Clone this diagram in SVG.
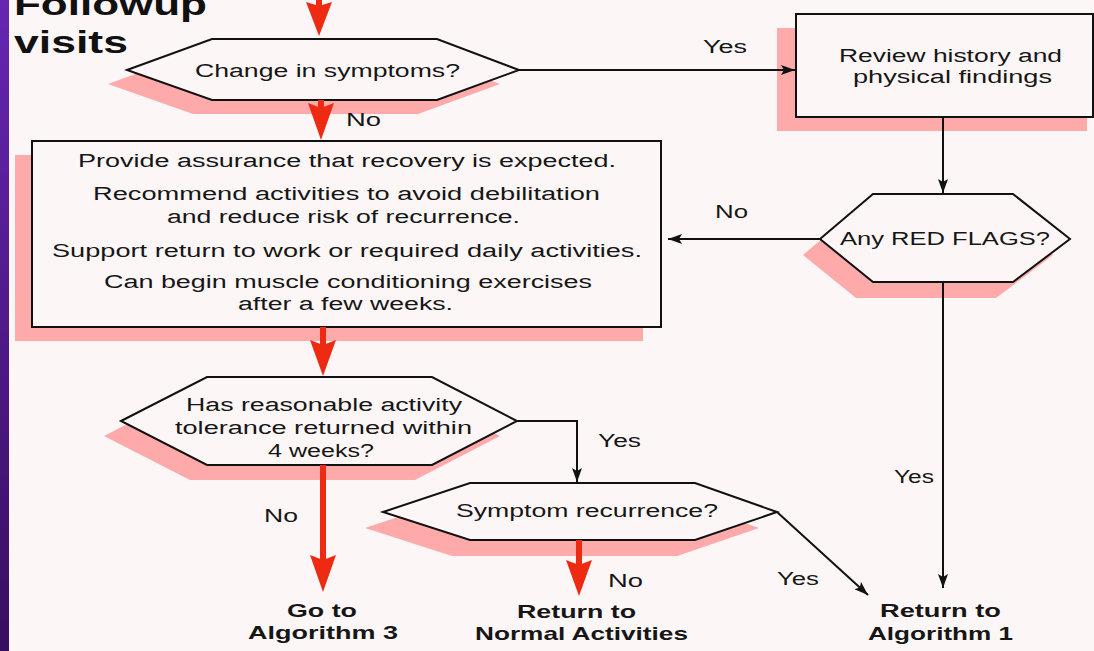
<svg xmlns="http://www.w3.org/2000/svg" width="1094" height="651" viewBox="0 0 1094 651">
<defs>
  <linearGradient id="bar" x1="0" y1="0" x2="0" y2="1">
    <stop offset="0" stop-color="#6626b2"/>
    <stop offset="1" stop-color="#380e60"/>
  </linearGradient>
  <marker id="ah" viewBox="0 0 14 10" refX="14" refY="5" markerWidth="14" markerHeight="10" markerUnits="userSpaceOnUse" orient="auto">
    <path d="M0,0 L14,5 L0,10 L3,5 Z" fill="#111"/>
  </marker>
</defs>
<style>
  .t { font-family: "Liberation Sans", Arial, sans-serif; font-size: 18px; fill: #161616; }
  .b { font-weight: bold; font-size: 19px; }
  .title { font-family: "Liberation Sans", Arial, sans-serif; font-weight: bold; font-size: 31px; fill: #111; }
  .shape { fill: #fdf6f6; stroke: #111; stroke-width: 2; }
  .shadow { fill: #ffaaaa; }
  .blk { stroke: #111; stroke-width: 2; fill: none; }
  .red { stroke: #ee2b12; stroke-width: 6; fill: none; }
  .rh { fill: #ee2b12; }
</style>
<rect x="0" y="0" width="1094" height="651" fill="#fdf6f6"/>
<rect x="0" y="0" width="9" height="651" fill="url(#bar)"/>

<g id="title">
  <text class="title" x="14" y="15" textLength="193" lengthAdjust="spacingAndGlyphs">Followup</text>
  <text class="title" x="14" y="53" textLength="114" lengthAdjust="spacingAndGlyphs">visits</text>
</g>

<g id="node-change">
  <polygon class="shadow" transform="translate(-19,14)" points="127,70 212,39 437,39 519,70 437,100 212,100"/>
  <polygon class="shape" points="127,70 212,39 437,39 519,70 437,100 212,100"/>
  <text class="t" x="195" y="77" textLength="265" lengthAdjust="spacingAndGlyphs">Change in symptoms?</text>
</g>

<g id="node-review">
  <rect class="shadow" x="777" y="28" width="310" height="103"/>
  <rect class="shape" x="796" y="14" width="297" height="103"/>
  <text class="t" x="839" y="62" textLength="223" lengthAdjust="spacingAndGlyphs">Review history and</text>
  <text class="t" x="853" y="83" textLength="199" lengthAdjust="spacingAndGlyphs">physical findings</text>
</g>

<g id="node-redflags">
  <polygon class="shadow" transform="translate(-17,16)" points="820,239 873,194 1013,194 1070,239 1013,282 873,282"/>
  <polygon class="shape" points="820,239 873,194 1013,194 1070,239 1013,282 873,282"/>
  <text class="t" x="840" y="245" textLength="210" lengthAdjust="spacingAndGlyphs">Any RED FLAGS?</text>
</g>

<g id="node-assurance">
  <rect class="shadow" x="15" y="155" width="628" height="186"/>
  <rect class="shape" x="32" y="141" width="629" height="186"/>
  <text class="t" x="78" y="167" textLength="538" lengthAdjust="spacingAndGlyphs">Provide assurance that recovery is expected.</text>
  <text class="t" x="93" y="200" textLength="507" lengthAdjust="spacingAndGlyphs">Recommend activities to avoid debilitation</text>
  <text class="t" x="167" y="223" textLength="353" lengthAdjust="spacingAndGlyphs">and reduce risk of recurrence.</text>
  <text class="t" x="52" y="257" textLength="590" lengthAdjust="spacingAndGlyphs">Support return to work or required daily activities.</text>
  <text class="t" x="104" y="288" textLength="488" lengthAdjust="spacingAndGlyphs">Can begin muscle conditioning exercises</text>
  <text class="t" x="238" y="310" textLength="215" lengthAdjust="spacingAndGlyphs">after a few weeks.</text>
</g>

<g id="node-tolerance">
  <polygon class="shadow" transform="translate(-17,15)" points="121,421 207,377 432,377 517,421 432,465 207,465"/>
  <polygon class="shape" points="121,421 207,377 432,377 517,421 432,465 207,465"/>
  <text class="t" x="186" y="411" textLength="276" lengthAdjust="spacingAndGlyphs">Has reasonable activity</text>
  <text class="t" x="175" y="434" textLength="297" lengthAdjust="spacingAndGlyphs">tolerance returned within</text>
  <text class="t" x="268" y="457" textLength="106" lengthAdjust="spacingAndGlyphs">4 weeks?</text>
</g>

<g id="node-recurrence">
  <polygon class="shadow" transform="translate(-18,16)" points="383,512 470,483 695,483 777,512 695,540 470,540"/>
  <polygon class="shape" points="383,512 470,483 695,483 777,512 695,540 470,540"/>
  <text class="t" x="456" y="517" textLength="262" lengthAdjust="spacingAndGlyphs">Symptom recurrence?</text>
</g>

<g id="node-alg3">
  <text class="t b" x="287" y="617" textLength="70" lengthAdjust="spacingAndGlyphs">Go to</text>
  <text class="t b" x="248" y="639" textLength="150" lengthAdjust="spacingAndGlyphs">Algorithm 3</text>
</g>

<g id="node-normal">
  <text class="t b" x="517" y="618" textLength="119" lengthAdjust="spacingAndGlyphs">Return to</text>
  <text class="t b" x="475" y="640" textLength="213" lengthAdjust="spacingAndGlyphs">Normal Activities</text>
</g>

<g id="node-alg1">
  <text class="t b" x="880" y="617" textLength="121" lengthAdjust="spacingAndGlyphs">Return to</text>
  <text class="t b" x="868" y="640" textLength="145" lengthAdjust="spacingAndGlyphs">Algorithm 1</text>
</g>

<g id="connectors">
  <!-- incoming top red arrow -->
  <line class="red" x1="319" y1="0" x2="319" y2="6"/>
  <polygon class="rh" points="306,2 319,6 332,2 319,36"/>
  <!-- hex1 -> assurance (No) -->
  <line class="red" x1="321" y1="100" x2="321" y2="108"/>
  <polygon class="rh" points="308,103 321,108 334,103 321,140"/>
  <text class="t" x="346" y="126" textLength="35" lengthAdjust="spacingAndGlyphs">No</text>
  <!-- hex1 -> review (Yes) -->
  <line class="blk" x1="519" y1="70" x2="795" y2="70" marker-end="url(#ah)"/>
  <text class="t" x="703" y="53" textLength="44" lengthAdjust="spacingAndGlyphs">Yes</text>
  <!-- review -> red flags -->
  <line class="blk" x1="943" y1="117" x2="943" y2="193" marker-end="url(#ah)"/>
  <!-- red flags -> assurance (No) -->
  <line class="blk" x1="820" y1="239" x2="668" y2="239" marker-end="url(#ah)"/>
  <text class="t" x="715" y="218" textLength="33" lengthAdjust="spacingAndGlyphs">No</text>
  <!-- red flags -> alg1 (Yes) -->
  <line class="blk" x1="943" y1="282" x2="943" y2="588" marker-end="url(#ah)"/>
  <text class="t" x="894" y="483" textLength="40" lengthAdjust="spacingAndGlyphs">Yes</text>
  <!-- assurance -> tolerance -->
  <line class="red" x1="323" y1="327" x2="323" y2="345"/>
  <polygon class="rh" points="310,340 323,345 336,340 323,376"/>
  <!-- tolerance -> alg3 (No) -->
  <line class="red" x1="323" y1="465" x2="323" y2="560"/>
  <polygon class="rh" points="310,555 323,560 336,555 323,592"/>
  <text class="t" x="264" y="522" textLength="34" lengthAdjust="spacingAndGlyphs">No</text>
  <!-- tolerance -> recurrence (Yes) -->
  <path class="blk" d="M517,421 H577 V482" marker-end="url(#ah)"/>
  <text class="t" x="598" y="447" textLength="43" lengthAdjust="spacingAndGlyphs">Yes</text>
  <!-- recurrence -> normal (No) -->
  <line class="red" x1="579" y1="540" x2="579" y2="565"/>
  <polygon class="rh" points="566,560 579,565 592,560 579,596"/>
  <text class="t" x="608" y="587" textLength="35" lengthAdjust="spacingAndGlyphs">No</text>
  <!-- recurrence -> alg1 (Yes) -->
  <line class="blk" x1="777" y1="512" x2="868" y2="595" marker-end="url(#ah)"/>
  <text class="t" x="777" y="585" textLength="42" lengthAdjust="spacingAndGlyphs">Yes</text>
</g>
</svg>
